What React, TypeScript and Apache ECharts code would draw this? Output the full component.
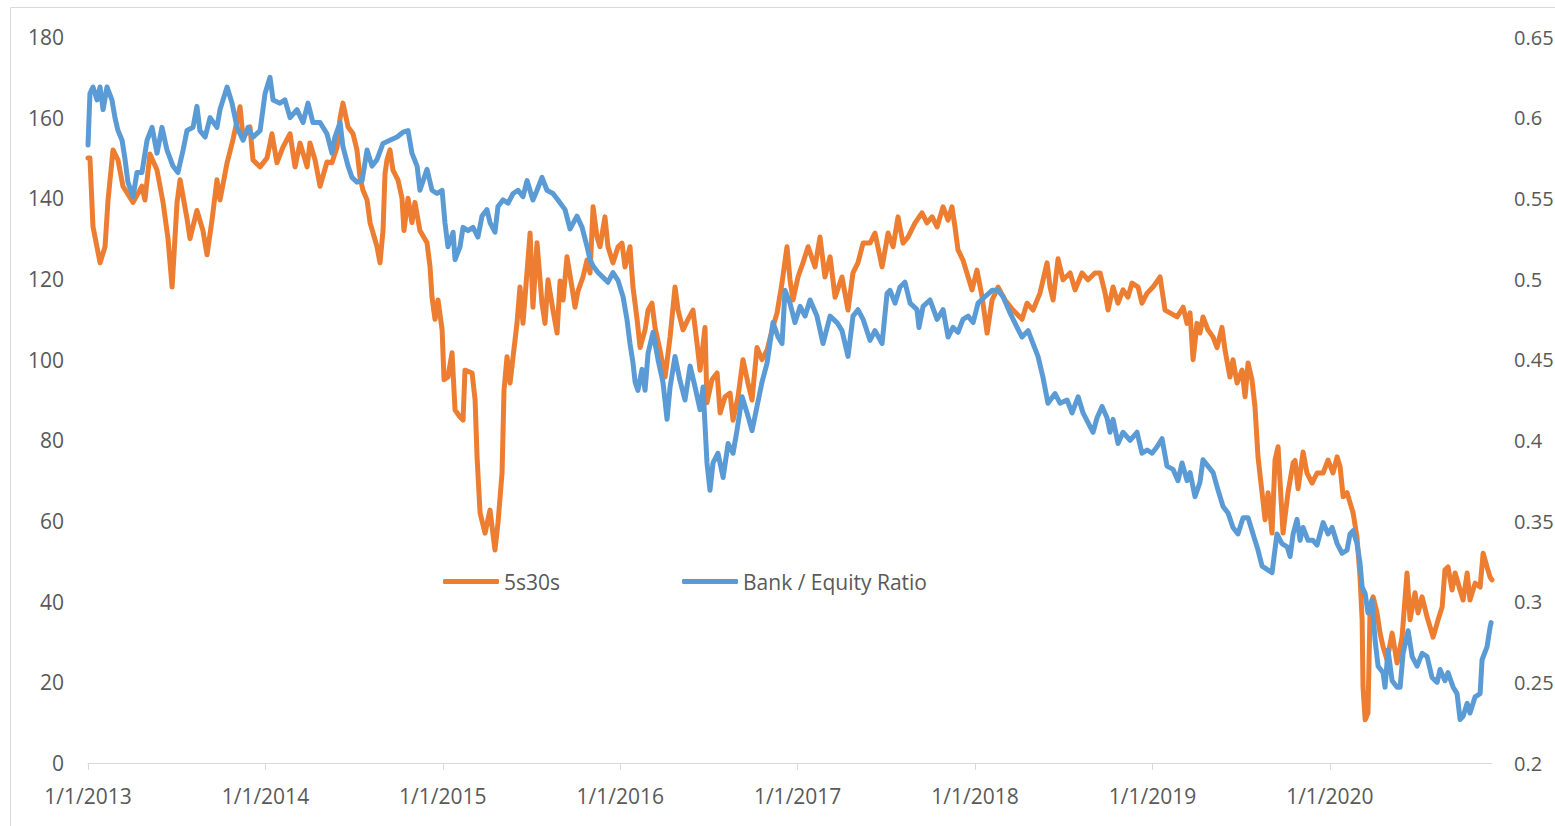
import React, { useEffect, useRef } from "react";
import * as echarts from "echarts";

// x values are decimal years (2013.0 = 1/1/2013)
const yearTicks = [2013, 2014, 2015, 2016, 2017, 2018, 2019, 2020];
const xMin = 2013;
const xMax = 2020.914;

const leftTicks = { min: 0, max: 180, interval: 20 };
const rightTicks = { min: 0.2, max: 0.65, interval: 0.05 };

const seriesNames = ["5s30s", "Bank / Equity Ratio"];

const spread5s30s: [number, number][] = [
  [2013.000,150],[2013.011,150],[2013.028,133],[2013.068,124],[2013.096,128],[2013.113,139.6],[2013.141,152],[2013.169,149.5],[2013.197,143],[2013.254,139],[2013.304,143],[2013.321,139.6],[2013.349,151],[2013.389,147],[2013.423,139],[2013.451,130],[2013.474,118],[2013.502,139],[2013.519,144.6],[2013.558,135],[2013.575,130],[2013.614,137],[2013.648,132],[2013.671,126],[2013.699,134.6],[2013.727,144.6],[2013.744,139.6],[2013.784,148.8],[2013.817,154.5],[2013.857,162.7],[2013.874,155],[2013.913,157.7],[2013.930,149.5],[2013.970,147.8],
  [2014.009,150],[2014.037,156],[2014.065,148.8],[2014.099,152.7],[2014.139,156],[2014.167,147.8],[2014.195,153.7],[2014.235,147.8],[2014.251,153.7],[2014.280,149.5],[2014.308,143],[2014.347,149],[2014.375,148.8],[2014.404,152.7],[2014.421,160],[2014.437,163.6],[2014.466,157.7],[2014.494,156],[2014.516,152],[2014.533,145.3],[2014.550,142],[2014.573,139.6],[2014.590,133.9],[2014.607,131.4],[2014.629,128],[2014.646,124],[2014.663,132],[2014.674,146],[2014.685,149.5],[2014.702,152],[2014.719,147],[2014.747,144.6],[2014.770,140],[2014.781,132],[2014.804,140],[2014.826,134],[2014.843,139],[2014.871,132],[2014.911,129],[2014.928,123],[2014.939,115.5],[2014.956,110],[2014.973,114.8],[2014.996,107.4],
  [2015.007,95],[2015.029,95.7],[2015.052,101.7],[2015.069,87.5],[2015.097,85.8],[2015.114,85],[2015.125,97.4],[2015.165,96.7],[2015.182,90],[2015.193,75.9],[2015.210,62],[2015.238,57],[2015.266,62.7],[2015.294,52.8],[2015.311,59.5],[2015.334,72],[2015.345,92.5],[2015.362,100.7],[2015.379,94.2],[2015.396,100.7],[2015.418,109],[2015.435,118],[2015.452,109],[2015.475,122],[2015.492,131.4],[2015.508,113],[2015.531,129],[2015.559,114],[2015.576,109],[2015.593,119.8],[2015.621,112.3],[2015.644,106.6],[2015.661,119.5],[2015.678,114.8],[2015.700,125.5],[2015.728,118],[2015.745,113],[2015.762,117],[2015.790,120.5],[2015.813,124.7],[2015.830,121.5],[2015.847,137.9],[2015.869,130.4],[2015.886,128],[2015.914,135.4],[2015.931,128],[2015.959,124],[2015.988,128],
  [2016.010,128.9],[2016.027,123],[2016.055,128],[2016.072,118],[2016.095,110],[2016.112,103],[2016.140,107.4],[2016.157,112.3],[2016.179,114],[2016.196,108],[2016.224,102.4],[2016.253,95.7],[2016.281,105.6],[2016.309,118],[2016.326,112.3],[2016.354,107.4],[2016.382,110],[2016.410,112.3],[2016.433,104],[2016.450,97.4],[2016.478,108],[2016.489,89.3],[2016.517,95],[2016.546,96.7],[2016.563,86.8],[2016.591,90.8],[2016.619,91.7],[2016.636,85],[2016.664,90.8],[2016.692,100],[2016.720,94.2],[2016.743,90],[2016.771,103],[2016.799,100],[2016.828,102.4],[2016.856,107.4],[2016.884,111.6],[2016.912,119],[2016.940,128],[2016.957,119.8],[2016.974,114.8],
  [2017.002,120.5],[2017.030,124],[2017.059,128],[2017.098,123],[2017.126,130.4],[2017.154,120.5],[2017.183,125.5],[2017.211,115.5],[2017.250,120.5],[2017.284,112.3],[2017.312,121.5],[2017.340,124],[2017.369,128.9],[2017.408,128.9],[2017.436,131.4],[2017.476,123],[2017.510,131.4],[2017.538,128],[2017.566,135.4],[2017.594,128.9],[2017.622,130.4],[2017.662,133.9],[2017.701,136.4],[2017.729,133.9],[2017.758,135.4],[2017.786,132.9],[2017.820,137.9],[2017.848,134.6],[2017.870,137.9],[2017.887,132.9],[2017.904,127.2],[2017.932,124.7],[2017.961,120.5],[2017.983,117.3],
  [2018.011,122.2],[2018.040,115.5],[2018.068,106.6],[2018.096,114.8],[2018.130,118],[2018.169,114.8],[2018.214,112.3],[2018.265,110],[2018.293,114],[2018.327,112.3],[2018.366,116.5],[2018.406,124],[2018.423,118],[2018.440,114.8],[2018.468,125],[2018.496,119.8],[2018.536,121.5],[2018.564,117.3],[2018.603,121.5],[2018.637,119.8],[2018.676,121.5],[2018.705,121.5],[2018.733,116.5],[2018.750,112.3],[2018.778,118],[2018.806,114],[2018.834,117.3],[2018.862,115.5],[2018.885,119],[2018.919,118],[2018.941,114],[2018.970,116.5],
  [2019.003,118],[2019.043,120.5],[2019.071,112.3],[2019.099,111.6],[2019.139,110.6],[2019.173,113],[2019.195,109],[2019.212,111.6],[2019.229,100],[2019.251,109],[2019.268,106.6],[2019.285,110.6],[2019.313,107.4],[2019.342,105.6],[2019.364,103],[2019.392,108],[2019.409,102.4],[2019.437,95.7],[2019.454,100],[2019.477,94.2],[2019.505,97.4],[2019.522,90.8],[2019.539,99.2],[2019.561,95],[2019.578,88.3],[2019.595,75.9],[2019.618,67],[2019.635,60.3],[2019.652,67],[2019.674,57],[2019.691,75.1],[2019.708,78.4],[2019.736,57],[2019.764,67],[2019.793,74.4],[2019.804,75],[2019.821,68],[2019.849,77.1],[2019.871,71.9],[2019.900,69.4],[2019.928,71.9],[2019.962,71.9],[2019.990,75.1],
  [2020.018,71.9],[2020.041,75.9],[2020.058,73.4],[2020.075,66],[2020.097,67],[2020.114,64.5],[2020.131,62],[2020.153,56],[2020.170,46.1],[2020.182,35.5],[2020.187,18.8],[2020.199,10.7],[2020.215,12.4],[2020.227,38.7],[2020.244,41.2],[2020.266,37.2],[2020.283,32.2],[2020.300,28.8],[2020.323,25.5],[2020.351,32.2],[2020.379,24.8],[2020.407,31.2],[2020.435,47.1],[2020.452,35.5],[2020.480,42.2],[2020.497,37.2],[2020.520,41.2],[2020.548,36.2],[2020.565,33.7],[2020.582,31.2],[2020.610,35.5],[2020.633,38.7],[2020.649,47.9],[2020.666,48.6],[2020.689,42.9],[2020.706,47.1],[2020.734,42.9],[2020.751,40.4],[2020.774,47.1],[2020.790,40.4],[2020.819,44.6],[2020.847,43.6],[2020.864,52],[2020.886,48.6],[2020.903,46.1],[2020.914,45.4],
];

const bankEquityRatio: [number, number][] = [
  [2013.000,0.583],[2013.011,0.615],[2013.028,0.619],[2013.051,0.611],[2013.068,0.619],[2013.085,0.605],[2013.107,0.619],[2013.135,0.611],[2013.152,0.600],[2013.169,0.592],[2013.192,0.586],[2013.209,0.574],[2013.225,0.560],[2013.254,0.551],[2013.276,0.566],[2013.304,0.566],[2013.333,0.586],[2013.361,0.594],[2013.389,0.578],[2013.417,0.594],[2013.445,0.580],[2013.479,0.570],[2013.507,0.566],[2013.536,0.580],[2013.558,0.592],[2013.592,0.594],[2013.614,0.607],[2013.631,0.592],[2013.660,0.588],[2013.688,0.600],[2013.727,0.594],[2013.744,0.605],[2013.784,0.619],[2013.812,0.609],[2013.840,0.594],[2013.874,0.586],[2013.902,0.594],[2013.930,0.588],[2013.970,0.592],[2013.998,0.615],
  [2014.026,0.625],[2014.043,0.611],[2014.082,0.609],[2014.110,0.611],[2014.139,0.600],[2014.178,0.605],[2014.212,0.597],[2014.240,0.609],[2014.268,0.597],[2014.308,0.597],[2014.347,0.590],[2014.375,0.578],[2014.392,0.588],[2014.421,0.597],[2014.437,0.582],[2014.466,0.570],[2014.488,0.563],[2014.516,0.560],[2014.545,0.561],[2014.573,0.580],[2014.601,0.570],[2014.629,0.574],[2014.663,0.584],[2014.702,0.586],[2014.742,0.588],[2014.776,0.591],[2014.804,0.592],[2014.826,0.578],[2014.855,0.570],[2014.871,0.555],[2014.911,0.568],[2014.939,0.555],[2014.967,0.553],[2014.996,0.555],
  [2015.012,0.535],[2015.029,0.520],[2015.058,0.529],[2015.069,0.512],[2015.097,0.520],[2015.114,0.532],[2015.142,0.530],[2015.170,0.532],[2015.198,0.526],[2015.221,0.539],[2015.249,0.543],[2015.266,0.535],[2015.294,0.529],[2015.311,0.545],[2015.339,0.549],[2015.368,0.547],[2015.396,0.553],[2015.424,0.555],[2015.452,0.551],[2015.475,0.561],[2015.508,0.549],[2015.531,0.555],[2015.559,0.563],[2015.587,0.555],[2015.621,0.553],[2015.649,0.549],[2015.689,0.543],[2015.717,0.531],[2015.756,0.539],[2015.785,0.532],[2015.813,0.520],[2015.830,0.512],[2015.847,0.508],[2015.875,0.504],[2015.903,0.501],[2015.931,0.498],[2015.959,0.504],[2015.988,0.499],
  [2016.016,0.489],[2016.038,0.475],[2016.055,0.460],[2016.072,0.448],[2016.084,0.436],[2016.100,0.431],[2016.123,0.444],[2016.140,0.431],[2016.157,0.454],[2016.185,0.467],[2016.213,0.450],[2016.241,0.436],[2016.264,0.413],[2016.281,0.433],[2016.309,0.452],[2016.337,0.437],[2016.365,0.425],[2016.394,0.446],[2016.422,0.433],[2016.450,0.419],[2016.467,0.433],[2016.489,0.386],[2016.506,0.369],[2016.523,0.386],[2016.551,0.392],[2016.580,0.377],[2016.608,0.398],[2016.636,0.392],[2016.658,0.406],[2016.687,0.427],[2016.715,0.417],[2016.743,0.406],[2016.771,0.421],[2016.799,0.436],[2016.828,0.448],[2016.861,0.473],[2016.890,0.464],[2016.912,0.460],[2016.929,0.493],[2016.957,0.485],[2016.985,0.473],
  [2017.014,0.483],[2017.042,0.477],[2017.070,0.487],[2017.109,0.477],[2017.143,0.460],[2017.183,0.477],[2017.222,0.473],[2017.250,0.468],[2017.284,0.452],[2017.312,0.477],[2017.340,0.481],[2017.369,0.475],[2017.408,0.462],[2017.436,0.468],[2017.476,0.460],[2017.504,0.491],[2017.521,0.493],[2017.549,0.485],[2017.577,0.495],[2017.605,0.498],[2017.634,0.485],[2017.673,0.481],[2017.684,0.470],[2017.707,0.483],[2017.746,0.487],[2017.786,0.475],[2017.820,0.481],[2017.848,0.464],[2017.876,0.470],[2017.904,0.467],[2017.932,0.475],[2017.961,0.477],[2017.989,0.473],
  [2018.017,0.485],[2018.056,0.489],[2018.096,0.493],[2018.130,0.493],[2018.158,0.489],[2018.197,0.479],[2018.237,0.470],[2018.265,0.464],[2018.299,0.468],[2018.327,0.460],[2018.355,0.452],[2018.383,0.439],[2018.411,0.423],[2018.451,0.429],[2018.479,0.423],[2018.519,0.425],[2018.547,0.417],[2018.581,0.427],[2018.609,0.417],[2018.637,0.411],[2018.665,0.405],[2018.688,0.414],[2018.716,0.421],[2018.744,0.414],[2018.761,0.405],[2018.778,0.413],[2018.806,0.398],[2018.834,0.405],[2018.874,0.400],[2018.913,0.405],[2018.941,0.392],[2018.970,0.394],[2018.998,0.392],
  [2019.026,0.396],[2019.054,0.401],[2019.082,0.384],[2019.116,0.382],[2019.144,0.375],[2019.167,0.386],[2019.195,0.375],[2019.212,0.380],[2019.240,0.365],[2019.268,0.374],[2019.285,0.388],[2019.313,0.384],[2019.342,0.380],[2019.370,0.369],[2019.398,0.359],[2019.426,0.355],[2019.454,0.346],[2019.482,0.342],[2019.511,0.352],[2019.539,0.352],[2019.567,0.342],[2019.595,0.332],[2019.618,0.322],[2019.646,0.320],[2019.674,0.318],[2019.702,0.342],[2019.730,0.336],[2019.759,0.334],[2019.776,0.328],[2019.793,0.342],[2019.815,0.351],[2019.832,0.338],[2019.849,0.346],[2019.877,0.338],[2019.905,0.338],[2019.928,0.335],[2019.962,0.349],[2019.990,0.342],
  [2020.013,0.346],[2020.041,0.336],[2020.069,0.330],[2020.097,0.332],[2020.114,0.342],[2020.131,0.344],[2020.153,0.336],[2020.170,0.324],[2020.182,0.309],[2020.199,0.305],[2020.215,0.293],[2020.238,0.301],[2020.255,0.276],[2020.272,0.260],[2020.300,0.256],[2020.311,0.247],[2020.328,0.270],[2020.351,0.251],[2020.379,0.247],[2020.396,0.247],[2020.413,0.268],[2020.441,0.282],[2020.464,0.266],[2020.492,0.260],[2020.520,0.268],[2020.548,0.266],[2020.576,0.253],[2020.605,0.250],[2020.621,0.258],[2020.649,0.251],[2020.666,0.256],[2020.695,0.247],[2020.717,0.243],[2020.734,0.227],[2020.751,0.229],[2020.774,0.237],[2020.790,0.231],[2020.819,0.241],[2020.847,0.243],[2020.858,0.264],[2020.886,0.272],[2020.903,0.284],[2020.909,0.287],
];

const FONT = "'Open Sans', 'Liberation Sans', sans-serif";
const TEXT = "#595959";
const ORANGE = "#ED7D31";
const BLUE = "#5B9BD5";

export default function App() {
  const ref = useRef<HTMLDivElement>(null);

  useEffect(() => {
    if (!ref.current) return;
    const chart = echarts.init(ref.current, null, { renderer: "svg" });
    chart.setOption({
      animation: false,
      backgroundColor: "#ffffff",
      textStyle: { fontFamily: FONT },
      grid: { left: 88, right: 63, top: 37, bottom: 63, containLabel: false, outerBoundsMode: "none" },
      graphic: [
        {
          type: "rect",
          silent: true,
          shape: { x: 10.5, y: 7.5, width: 1570, height: 840 },
          style: { fill: "none", stroke: "#d9d9d9", lineWidth: 1 },
        },
      ],
      legend: {
        data: seriesNames,
        left: 443,
        top: 571,
        padding: 0,
        itemWidth: 56,
        itemHeight: 5,
        itemGap: 122,
        icon: "roundRect",
        textStyle: { color: TEXT, fontSize: 21, fontFamily: FONT },
      },
      xAxis: {
        type: "value",
        min: xMin,
        max: xMax,
        interval: 1,
        splitLine: { show: false },
        axisLine: { onZero: false, lineStyle: { color: "#d9d9d9", width: 1 } },
        axisTick: { show: true, length: 7, lineStyle: { color: "#d9d9d9" }, customValues: yearTicks },
        axisLabel: {
          customValues: yearTicks,
          formatter: (v: number) => `1/1/${Math.round(v)}`,
          color: TEXT,
          fontSize: 21,
          fontFamily: FONT,
          margin: 22,
        },
      },
      yAxis: [
        {
          type: "value",
          position: "left",
          ...leftTicks,
          splitLine: { show: false },
          axisLine: { show: false },
          axisTick: { show: false },
          axisLabel: { color: TEXT, fontSize: 21, fontFamily: FONT, margin: 24 },
        },
        {
          type: "value",
          position: "right",
          ...rightTicks,
          splitLine: { show: false },
          axisLine: { show: false },
          axisTick: { show: false },
          axisLabel: {
            color: TEXT,
            fontSize: 20,
            fontFamily: FONT,
            margin: 22,
            formatter: (v: number) => String(parseFloat(v.toFixed(2))),
          },
        },
      ],
      series: [
        {
          name: seriesNames[0],
          type: "line",
          yAxisIndex: 0,
          data: spread5s30s,
          showSymbol: false,
          symbol: "none",
          color: ORANGE,
          lineStyle: { color: ORANGE, width: 5, cap: "round", join: "round" },
          silent: true,
        },
        {
          name: seriesNames[1],
          type: "line",
          yAxisIndex: 1,
          data: bankEquityRatio,
          showSymbol: false,
          symbol: "none",
          color: BLUE,
          lineStyle: { color: BLUE, width: 5, cap: "round", join: "round" },
          silent: true,
        },
      ],
    });
    return () => chart.dispose();
  }, []);

  return (
    <div
      ref={ref}
      style={{ position: "absolute", left: 0, top: 0, width: 1555, height: 826, background: "#fff" }}
    />
  );
}
